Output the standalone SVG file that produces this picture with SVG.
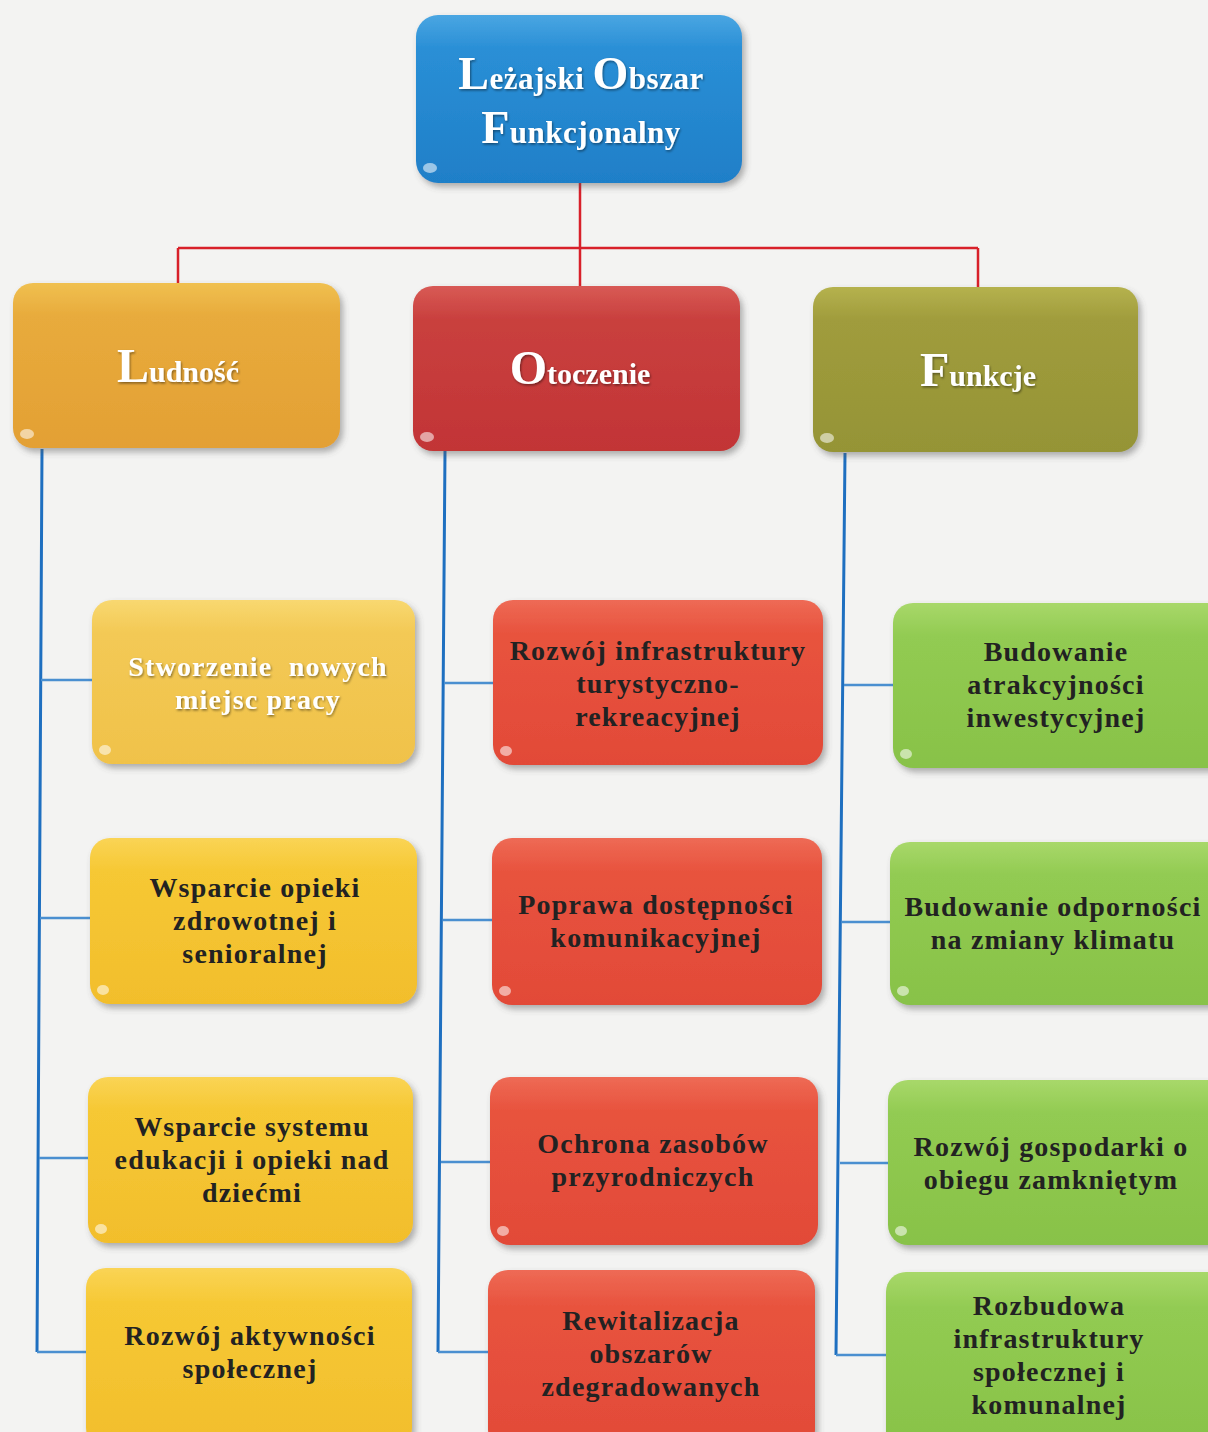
<svg xmlns="http://www.w3.org/2000/svg" width="1208" height="1432" viewBox="0 0 1208 1432">
<defs>
<linearGradient id="gBlue" x1="0" y1="0" x2="0" y2="1"><stop offset="0" stop-color="#4aa6e2"/><stop offset="0.2" stop-color="#2a8fd6"/><stop offset="1" stop-color="#1f7fc8"/></linearGradient>
<linearGradient id="gLud" x1="0" y1="0" x2="0" y2="1"><stop offset="0" stop-color="#f0c050"/><stop offset="0.2" stop-color="#e8ab3c"/><stop offset="1" stop-color="#e3a034"/></linearGradient>
<linearGradient id="gOto" x1="0" y1="0" x2="0" y2="1"><stop offset="0" stop-color="#d85a55"/><stop offset="0.2" stop-color="#c9403e"/><stop offset="1" stop-color="#c23436"/></linearGradient>
<linearGradient id="gFun" x1="0" y1="0" x2="0" y2="1"><stop offset="0" stop-color="#b5b24e"/><stop offset="0.2" stop-color="#a09c3c"/><stop offset="1" stop-color="#959436"/></linearGradient>
<linearGradient id="gY1" x1="0" y1="0" x2="0" y2="1"><stop offset="0" stop-color="#f8d870"/><stop offset="0.2" stop-color="#f3c955"/><stop offset="1" stop-color="#f0c24a"/></linearGradient>
<linearGradient id="gY" x1="0" y1="0" x2="0" y2="1"><stop offset="0" stop-color="#fad455"/><stop offset="0.2" stop-color="#f6c834"/><stop offset="1" stop-color="#f2be2c"/></linearGradient>
<linearGradient id="gR" x1="0" y1="0" x2="0" y2="1"><stop offset="0" stop-color="#ee6a55"/><stop offset="0.2" stop-color="#e8533e"/><stop offset="1" stop-color="#e24a38"/></linearGradient>
<linearGradient id="gG" x1="0" y1="0" x2="0" y2="1"><stop offset="0" stop-color="#a8d86a"/><stop offset="0.2" stop-color="#92cb52"/><stop offset="1" stop-color="#88c248"/></linearGradient>
<filter id="sh" x="-10%" y="-10%" width="125%" height="130%"><feDropShadow dx="3" dy="4" stdDeviation="3" flood-color="#555" flood-opacity="0.45"/></filter>
<filter id="tsh" x="-5%" y="-20%" width="110%" height="150%"><feDropShadow dx="1" dy="1.5" stdDeviation="0.8" flood-color="#000" flood-opacity="0.45"/></filter>
</defs>
<style>
.box{filter:url(#sh);}
.t{font-family:"Liberation Serif","Times New Roman",serif;font-weight:bold;text-anchor:middle;}
.w{fill:#ffffff;filter:url(#tsh);}
.d{fill:#222222;font-size:28px;letter-spacing:1.2px;}
.hl{fill:#ffffff;opacity:0.55;}
.red{stroke:#d8202a;stroke-width:2.5;fill:none;}
.blue{stroke:#1e6fc0;stroke-width:3;fill:none;}
.blue2{stroke:#4a8fd0;stroke-width:2.5;fill:none;}
</style>
<rect width="1208" height="1432" fill="#f3f3f2"/>

<g id="connectors">
<path class="red" d="M580,183 V248 M178,248 H978 M178,248 V283 M580,248 V286 M978,248 V287"/>
<path class="blue" d="M42,449 L37,1352 M445,451 L438,1352 M845,453 L836,1355"/>
<path class="blue2" d="M41,680 H92 M40,918 H90 M39,1158 H88 M37,1352 H86"/>
<path class="blue2" d="M444,683 H493 M443,920 H492 M441,1162 H490 M438,1352 H488"/>
<path class="blue2" d="M844,685 H893 M842,922 H890 M840,1163 H888 M836,1355 H886"/>
</g>

<g id="root">
<rect class="box" x="416" y="15" width="326" height="168" rx="22" fill="url(#gBlue)"/>
<ellipse class="hl" cx="430" cy="168" rx="7" ry="5"/>
<text class="t w" x="581" y="89" font-size="31" letter-spacing="0.5"><tspan font-size="46">L</tspan>eżajski <tspan font-size="46">O</tspan>bszar</text>
<text class="t w" x="581" y="143" font-size="31" letter-spacing="0.5"><tspan font-size="46">F</tspan>unkcjonalny</text>
</g>

<g id="ludnosc">
<rect class="box" x="13" y="283" width="327" height="165" rx="20" fill="url(#gLud)"/>
<ellipse class="hl" cx="27" cy="434" rx="7" ry="5"/>
<text class="t w" x="178" y="382" font-size="30"><tspan font-size="48">L</tspan>udność</text>
</g>

<g id="otoczenie">
<rect class="box" x="413" y="286" width="327" height="165" rx="20" fill="url(#gOto)"/>
<ellipse class="hl" cx="427" cy="437" rx="7" ry="5"/>
<text class="t w" x="580" y="384" font-size="30"><tspan font-size="48">O</tspan>toczenie</text>
</g>

<g id="funkcje">
<rect class="box" x="813" y="287" width="325" height="165" rx="20" fill="url(#gFun)"/>
<ellipse class="hl" cx="827" cy="438" rx="7" ry="5"/>
<text class="t w" x="978" y="386" font-size="30"><tspan font-size="48">F</tspan>unkcje</text>
</g>

<g id="l1">
<rect class="box" x="92" y="600" width="323" height="164" rx="20" fill="url(#gY1)"/>
<ellipse class="hl" cx="105" cy="750" rx="6" ry="5"/>
<text class="t w" x="258" y="676" font-size="28" letter-spacing="1.2" xml:space="preserve">Stworzenie  nowych</text>
<text class="t w" x="258" y="709" font-size="28" letter-spacing="1.2">miejsc pracy</text>
</g>

<g id="l2">
<rect class="box" x="90" y="838" width="327" height="166" rx="20" fill="url(#gY)"/>
<ellipse class="hl" cx="103" cy="990" rx="6" ry="5"/>
<text class="t d" x="255" y="897">Wsparcie opieki</text>
<text class="t d" x="255" y="930">zdrowotnej i</text>
<text class="t d" x="255" y="963">senioralnej</text>
</g>

<g id="l3">
<rect class="box" x="88" y="1077" width="325" height="166" rx="20" fill="url(#gY)"/>
<ellipse class="hl" cx="101" cy="1229" rx="6" ry="5"/>
<text class="t d" x="252" y="1136">Wsparcie systemu</text>
<text class="t d" x="252" y="1169">edukacji i opieki nad</text>
<text class="t d" x="252" y="1202">dziećmi</text>
</g>

<g id="l4">
<rect class="box" x="86" y="1268" width="326" height="180" rx="20" fill="url(#gY)"/>
<text class="t d" x="250" y="1345">Rozwój aktywności</text>
<text class="t d" x="250" y="1378">społecznej</text>
</g>

<g id="m1">
<rect class="box" x="493" y="600" width="330" height="165" rx="20" fill="url(#gR)"/>
<ellipse class="hl" cx="506" cy="751" rx="6" ry="5"/>
<text class="t d" x="658" y="660">Rozwój infrastruktury</text>
<text class="t d" x="658" y="693">turystyczno-</text>
<text class="t d" x="658" y="726">rekreacyjnej</text>
</g>

<g id="m2">
<rect class="box" x="492" y="838" width="330" height="167" rx="20" fill="url(#gR)"/>
<ellipse class="hl" cx="505" cy="991" rx="6" ry="5"/>
<text class="t d" x="656" y="914">Poprawa dostępności</text>
<text class="t d" x="656" y="947">komunikacyjnej</text>
</g>

<g id="m3">
<rect class="box" x="490" y="1077" width="328" height="168" rx="20" fill="url(#gR)"/>
<ellipse class="hl" cx="503" cy="1231" rx="6" ry="5"/>
<text class="t d" x="653" y="1153">Ochrona zasobów</text>
<text class="t d" x="653" y="1186">przyrodniczych</text>
</g>

<g id="m4">
<rect class="box" x="488" y="1270" width="327" height="180" rx="20" fill="url(#gR)"/>
<text class="t d" x="651" y="1330">Rewitalizacja</text>
<text class="t d" x="651" y="1363">obszarów</text>
<text class="t d" x="651" y="1396">zdegradowanych</text>
</g>

<g id="r1">
<rect class="box" x="893" y="603" width="335" height="165" rx="20" fill="url(#gG)"/>
<ellipse class="hl" cx="906" cy="754" rx="6" ry="5"/>
<text class="t d" x="1056" y="661">Budowanie</text>
<text class="t d" x="1056" y="694">atrakcyjności</text>
<text class="t d" x="1056" y="727">inwestycyjnej</text>
</g>

<g id="r2">
<rect class="box" x="890" y="842" width="338" height="163" rx="20" fill="url(#gG)"/>
<ellipse class="hl" cx="903" cy="991" rx="6" ry="5"/>
<text class="t d" x="1053" y="916">Budowanie odporności</text>
<text class="t d" x="1053" y="949">na zmiany klimatu</text>
</g>

<g id="r3">
<rect class="box" x="888" y="1080" width="340" height="165" rx="20" fill="url(#gG)"/>
<ellipse class="hl" cx="901" cy="1231" rx="6" ry="5"/>
<text class="t d" x="1051" y="1156">Rozwój gospodarki o</text>
<text class="t d" x="1051" y="1189">obiegu zamkniętym</text>
</g>

<g id="r4">
<rect class="box" x="886" y="1272" width="342" height="180" rx="20" fill="url(#gG)"/>
<text class="t d" x="1049" y="1315">Rozbudowa</text>
<text class="t d" x="1049" y="1348">infrastruktury</text>
<text class="t d" x="1049" y="1381">społecznej i</text>
<text class="t d" x="1049" y="1414">komunalnej</text>
</g>
</svg>
